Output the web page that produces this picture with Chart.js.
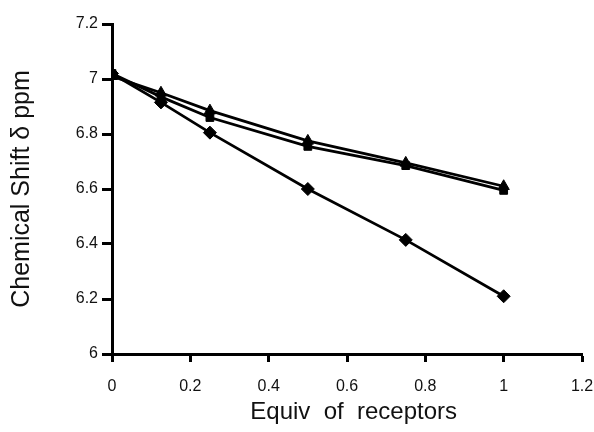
<!DOCTYPE html>
<html>
<head>
<meta charset="utf-8">
<title>Chemical shift titration</title>
<script src="https://cdn.jsdelivr.net/npm/chart.js@4"></script>
<style>
  html, body { margin: 0; padding: 0; background: #fff; }
  #shiftChart { display: block; }
</style>
</head>
<body>
<canvas id="shiftChart" width="594" height="432"></canvas>
<script>
// equivalents of receptor added
var equiv = [0, 0.125, 0.25, 0.5, 0.75, 1];

// observed shifts (ppm) for the three titrations
var shiftDiamond = [7.02, 6.915, 6.805, 6.60, 6.415, 6.21];
var shiftSquare = [7.02, 6.935, 6.86, 6.755, 6.685, 6.595];
var shiftTriangle = [7.01, 6.95, 6.885, 6.775, 6.695, 6.61];

var xTicks = [0, 0.2, 0.4, 0.6, 0.8, 1, 1.2];
var yTicks = [6, 6.2, 6.4, 6.6, 6.8, 7, 7.2];

var fontFamily = "'Liberation Sans', Arial, Helvetica, sans-serif";

function toPoints(xs, ys) {
  var pts = [];
  for (var i = 0; i < xs.length; i++) {
    pts.push({ x: xs[i], y: ys[i] });
  }
  return pts;
}

function makeSet(label, ys, style, radius) {
  return {
    label: label,
    data: toPoints(equiv, ys),
    borderColor: "#000",
    backgroundColor: "#000",
    borderWidth: 2.8,
    pointStyle: style,
    pointRadius: radius,
    pointBorderWidth: 1,
    tension: 0
  };
}

new Chart(document.getElementById("shiftChart"), {
  type: "line",
  data: {
    datasets: [
      makeSet("diamond", shiftDiamond, "rectRot", 6.5),
      makeSet("square", shiftSquare, "rect", 5.5),
      makeSet("triangle", shiftTriangle, "triangle", 6.5)
    ]
  },
  options: {
    responsive: false,
    animation: false,
    layout: { autoPadding: false, padding: { top: 24, right: 0, left: 0, bottom: 0 } },
    plugins: {
      legend: { display: false },
      tooltip: { enabled: false }
    },
    scales: {
      x: {
        type: "linear",
        min: 0,
        max: 1.2,
        afterBuildTicks: function (axis) {
          axis.ticks = xTicks.map(function (v) { return { value: v }; });
        },
        afterFit: function (axis) {
          axis.height = 78;
          // keep the plot running almost to the right edge
          axis.paddingLeft = 0;
          axis.paddingRight = 12;
        },
        border: { display: true, color: "#000", width: 3 },
        grid: {
          display: true,
          drawOnChartArea: false,
          drawTicks: true,
          tickLength: 8,
          tickColor: "#000",
          tickWidth: 3
        },
        ticks: {
          color: "#111",
          padding: 15,
          maxRotation: 0,
          font: { family: fontFamily, size: 16 },
          callback: function (v) { return String(Math.round(v * 10) / 10); }
        },
        title: {
          display: true,
          // leading spaces nudge the caption a little right of the axis centre
          text: "  Equiv  of  receptors",
          color: "#111",
          padding: { top: 0, bottom: 5 },
          font: { family: fontFamily, size: 24 }
        }
      },
      y: {
        type: "linear",
        min: 6,
        max: 7.2,
        afterBuildTicks: function (axis) {
          axis.ticks = yTicks.map(function (v) { return { value: v }; });
        },
        afterFit: function (axis) {
          axis.width = 112;
          axis.paddingTop = 0;
          axis.paddingBottom = 0;
        },
        border: { display: true, color: "#000", width: 3 },
        grid: {
          display: true,
          drawOnChartArea: false,
          drawTicks: true,
          tickLength: 10,
          tickColor: "#000",
          tickWidth: 3
        },
        ticks: {
          color: "#111",
          padding: 4,
          font: { family: fontFamily, size: 16 },
          callback: function (v) { return String(Math.round(v * 10) / 10); }
        },
        title: {
          display: true,
          text: "Chemical Shift δ ppm",
          color: "#111",
          padding: { top: 7, bottom: 0 },
          font: { family: fontFamily, size: 25 }
        }
      }
    }
  }
});
</script>
</body>
</html>
